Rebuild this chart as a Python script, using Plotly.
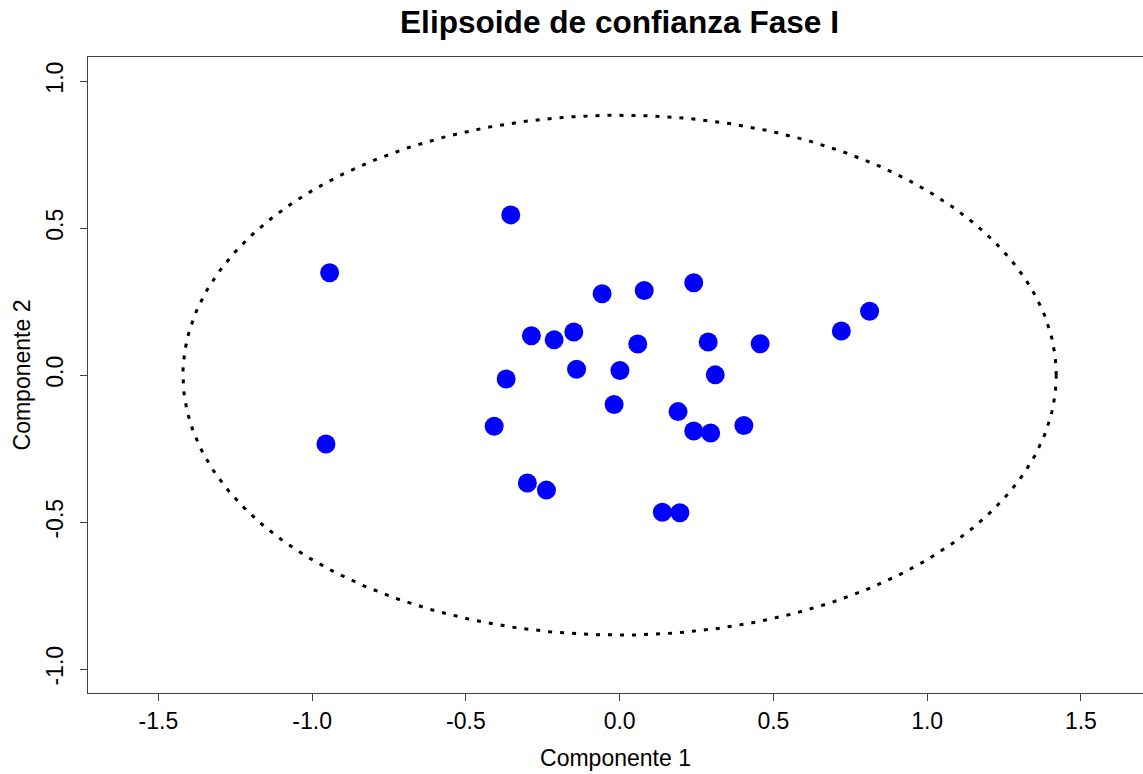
import numpy as np
import plotly.graph_objects as go

# Data (principal component scores, Phase I)
comp1 = [-0.354, -0.943, -0.057, 0.080, 0.241, -0.287, -0.213, -0.149, 0.059, 0.288,
         0.457, 0.721, 0.813, -0.369, -0.140, 0.001, 0.311, -0.018, 0.190, -0.408,
         0.241, 0.296, 0.404, -0.955, -0.300, -0.238, 0.139, 0.196]
comp2 = [0.545, 0.348, 0.277, 0.288, 0.314, 0.134, 0.120, 0.147, 0.106, 0.113,
         0.107, 0.150, 0.217, -0.013, 0.020, 0.016, 0.001, -0.100, -0.124, -0.174,
         -0.190, -0.197, -0.171, -0.234, -0.367, -0.391, -0.466, -0.468]

# Confidence ellipse semi-axes
semi_a = 1.42
semi_b = 0.884

x_ticks = [-1.5, -1.0, -0.5, 0.0, 0.5, 1.0, 1.5]
y_ticks = [-1.0, -0.5, 0.0, 0.5, 1.0]

t = np.linspace(0, 2 * np.pi, 400)
ex = semi_a * np.cos(t)
ey = semi_b * np.sin(t)

fig = go.Figure()
fig.add_trace(go.Scatter(x=ex, y=ey, mode="lines",
                         line=dict(color="black", width=3, dash="4px,8px"),
                         hoverinfo="skip", showlegend=False))
fig.add_trace(go.Scatter(x=comp1, y=comp2, mode="markers",
                         marker=dict(color="#0000FF", size=19, line=dict(width=0)),
                         showlegend=False))

font = "Liberation Sans, Arial, sans-serif"
fig.update_layout(
    width=1143, height=774,
    margin=dict(l=88, r=0, t=57, b=81),
    plot_bgcolor="white", paper_bgcolor="white",
    title=dict(text="<b>Elipsoide de confianza Fase I</b>",
               font=dict(family=font, size=31.6, color="black"),
               x=619.5 / 1143, xref="container", xanchor="center",
               y=1 - 22 / 774, yref="container", yanchor="middle"),
    xaxis=dict(range=[-1.7288, 1.702], tickvals=x_ticks,
               ticktext=[f"{v:.1f}" for v in x_ticks],
               showgrid=False, zeroline=False,
               showline=True, mirror=True, linecolor="#404040", linewidth=1,
               ticks="outside", ticklen=7, tickcolor="#404040", tickwidth=1,
               tickfont=dict(family=font, size=23, color="black"),
               ticklabelstandoff=0,
               title=dict(text="Componente 1", font=dict(family=font, size=23, color="black"),
                          standoff=17)),
    yaxis=dict(range=[-1.081, 1.082], tickvals=y_ticks,
               ticktext=[f"{v:.1f}" for v in y_ticks],
               showgrid=False, zeroline=False,
               showline=True, mirror=False, linecolor="#404040", linewidth=1,
               ticks="outside", ticklen=7, tickcolor="#404040", tickwidth=1,
               tickangle=-90,
               tickfont=dict(family=font, size=23, color="black"),
               ticklabelstandoff=8,
               title=dict(text="Componente 2", font=dict(family=font, size=23, color="black"),
                          standoff=4)),
)

fig.write_html("out.html")
